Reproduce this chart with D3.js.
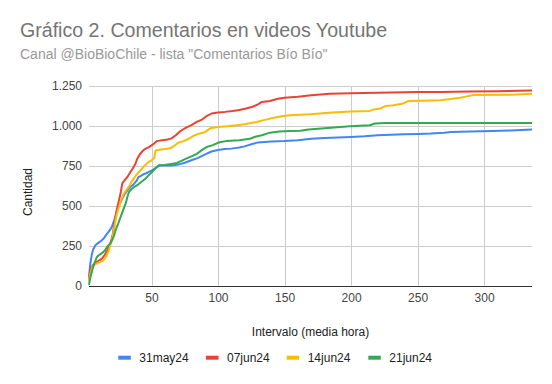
<!DOCTYPE html>
<html>
<head>
<meta charset="utf-8">
<script src="https://cdn.jsdelivr.net/npm/d3@7/dist/d3.min.js"></script>
<style>
  body { margin: 0; background: #fff; }
  svg { display: block; font-family: "Liberation Sans", Arial, sans-serif; }
</style>
</head>
<body>
<svg id="chart" width="552" height="384"></svg>
<script>
const titleText = "Gráfico 2. Comentarios en videos Youtube";
const subtitleText = "Canal @BioBioChile - lista \"Comentarios Bío Bío\"";
const xLabel = "Intervalo (media hora)";
const yLabel = "Cantidad";
const seriesNames = ["31may24", "07jun24", "14jun24", "21jun24"];
const seriesColors = ["#4285F4", "#EA4335", "#FBBC04", "#34A853"];
const xTicks = [50, 100, 150, 200, 250, 300];
const yTicks = [0, 250, 500, 750, 1000, 1250];

const may31 = [[3,56],[4,140],[5,190],[6,225],[8,255],[10,268],[12,280],[14,295],[16,320],[18,340],[20,365],[22,410],[24,470],[26,510],[28,545],[30,575],[32,600],[34,618],[36,630],[38,650],[39,660],[40,678],[42,688],[44,698],[46,704],[48,712],[50,720],[52,730],[54,742],[56,752],[60,752],[65,752],[70,758],[75,770],[80,785],[85,800],[90,820],[95,840],[100,850],[105,855],[110,858],[116,865],[120,872],[125,885],[130,897],[140,902],[150,905],[160,910],[170,920],[180,925],[190,928],[200,931],[210,935],[220,942],[230,945],[240,948],[250,950],[260,952],[270,958],[275,962],[290,965],[306,968],[320,972],[336,977]];
const jun07 = [[3,40],[4,100],[6,130],[9,150],[11,160],[13,172],[15,195],[17,225],[19,265],[20.5,306],[22,380],[23,431],[24,480],[25.6,536],[27,590],[28,640],[30,662],[32,682],[34,710],[36,735],[38,765],[39,790],[41,820],[43,840],[45,855],[48,868],[50,878],[52,890],[54,905],[58,910],[62,915],[65,922],[68,940],[72,970],[76,990],[80,1005],[84,1025],[88,1040],[92,1065],[96,1080],[100,1084],[105,1088],[111,1094],[116,1100],[121,1109],[126,1120],[130,1135],[133,1150],[139,1156],[145,1170],[150,1177],[160,1182],[170,1192],[184,1202],[200,1205],[220,1207],[250,1212],[267,1213],[290,1215],[310,1217],[336,1222]];
const jun14 = [[3,25],[4,75],[5.5,119],[7,130],[9,140],[12,150],[14,160],[16,185],[18,223],[20.5,296],[22,360],[23,411],[24,450],[25.6,494],[27,535],[29,572],[31,598],[33,620],[35,650],[37,675],[39,698],[41,715],[43,735],[45,752],[47,768],[48,775],[50,785],[52,798],[53,845],[55,850],[60,855],[64,860],[67,875],[70,895],[74,905],[78,920],[82,940],[86,952],[90,960],[94,985],[100,994],[107,998],[114,1004],[120,1010],[129,1025],[135,1038],[141,1050],[148,1060],[154,1067],[169,1073],[186,1084],[200,1090],[214,1094],[218,1105],[222,1109],[226,1125],[232,1130],[239,1140],[243,1156],[255,1158],[267,1161],[275,1168],[282,1177],[287,1185],[292,1194],[320,1196],[336,1202]];
const jun21 = [[3,5],[4,50],[5.5,98],[7,140],[9,181],[11,195],[13,205],[15,222],[17,248],[19,265],[20.5,286],[22,318],[23,348],[25,390],[26.8,431],[28.5,470],[30.6,515],[32,560],[33.1,588],[35,605],[37,618],[39.3,629],[42,648],[45.6,671],[48,692],[50.6,713],[53,735],[55.6,754],[60,756],[66.9,765],[69,768],[72,780],[76,795],[80,810],[84,825],[88,850],[92,870],[96,880],[101,898],[106,905],[116,910],[124,920],[128,932],[133,942],[139,958],[146,965],[154,969],[162,970],[168,978],[180,985],[199,998],[214,1004],[218,1015],[226,1019],[336,1019]];
const allSeries = [may31, jun07, jun14, jun21];

const svg = d3.select("#chart");
const plotLeft = 89, plotRight = 532, plotTop = 86, plotBottom = 285.7;

const x = d3.scaleLinear().domain([3, 336]).range([plotLeft, plotRight]);
const y = d3.scaleLinear().domain([0, 1250]).range([plotBottom, plotTop]);

// title
svg.append("text").attr("x", 20).attr("y", 37).attr("fill", "#757575")
  .style("font-size", "19.6px").text(titleText);
svg.append("text").attr("x", 20).attr("y", 58.7).attr("fill", "#999999")
  .style("font-size", "14px").text(subtitleText);

// gridlines
const grid = svg.append("g");
grid.selectAll("line.h").data(yTicks.filter(d => d > 0)).join("line")
  .attr("x1", plotLeft).attr("x2", plotRight)
  .attr("y1", d => Math.round(y(d)) + 0.5).attr("y2", d => Math.round(y(d)) + 0.5)
  .attr("stroke", "#cccccc").attr("stroke-width", 1);
grid.selectAll("line.v").data(xTicks).join("line")
  .attr("x1", d => Math.round(x(d)) + 0.5).attr("x2", d => Math.round(x(d)) + 0.5)
  .attr("y1", plotTop).attr("y2", plotBottom)
  .attr("stroke", "#cccccc").attr("stroke-width", 1);

// axes (labels only)
const yAxis = d3.axisLeft(y).tickValues(yTicks).tickSize(0).tickPadding(0)
  .tickFormat(d => d3.format(",")(d).replace(/,/g, "."));
const gy = svg.append("g").attr("transform", `translate(${plotLeft - 7},0)`).call(yAxis);
gy.select(".domain").remove();
gy.selectAll("text").attr("fill", "#444444").style("font-size", "12px")
  .style("font-family", "'Liberation Sans', Arial, sans-serif");

const xAxis = d3.axisBottom(x).tickValues(xTicks).tickSize(0).tickPadding(0);
const gx = svg.append("g").attr("transform", `translate(0,${plotBottom + 8})`).call(xAxis);
gx.select(".domain").remove();
gx.selectAll("text").attr("fill", "#444444").style("font-size", "12px")
  .style("font-family", "'Liberation Sans', Arial, sans-serif");

// lines
const line = d3.line().x(d => x(d[0])).y(d => y(d[1]));
svg.append("g").selectAll("path").data(allSeries).join("path")
  .attr("d", d => line(d))
  .attr("fill", "none")
  .attr("stroke", (d, i) => seriesColors[i])
  .attr("stroke-width", 2)
  .attr("stroke-linejoin", "round");

// baseline
svg.append("line").attr("x1", plotLeft).attr("x2", plotRight)
  .attr("y1", Math.round(y(0)) + 0.5).attr("y2", Math.round(y(0)) + 0.5)
  .attr("stroke", "#333333").attr("stroke-width", 1);

// axis titles
svg.append("text").attr("x", (plotLeft + plotRight) / 2).attr("y", 335.5)
  .attr("text-anchor", "middle").attr("fill", "#222222").style("font-size", "12px").text(xLabel);
svg.append("text").attr("transform", "translate(31.5,192) rotate(-90)")
  .attr("text-anchor", "middle").attr("fill", "#222222").style("font-size", "12px").text(yLabel);

// legend
const legendX = [118.3, 206, 286.7, 368.3];
const lg = svg.append("g").selectAll("g").data(seriesNames).join("g")
  .attr("transform", (d, i) => `translate(${legendX[i]},357.7)`);
lg.append("rect").attr("x", 0).attr("y", -2).attr("width", 12.5).attr("height", 4)
  .attr("fill", (d, i) => seriesColors[i]);
lg.append("text").attr("x", 21).attr("y", 4.3).attr("fill", "#222222")
  .style("font-size", "12px").text(d => d);
</script>
</body>
</html>
